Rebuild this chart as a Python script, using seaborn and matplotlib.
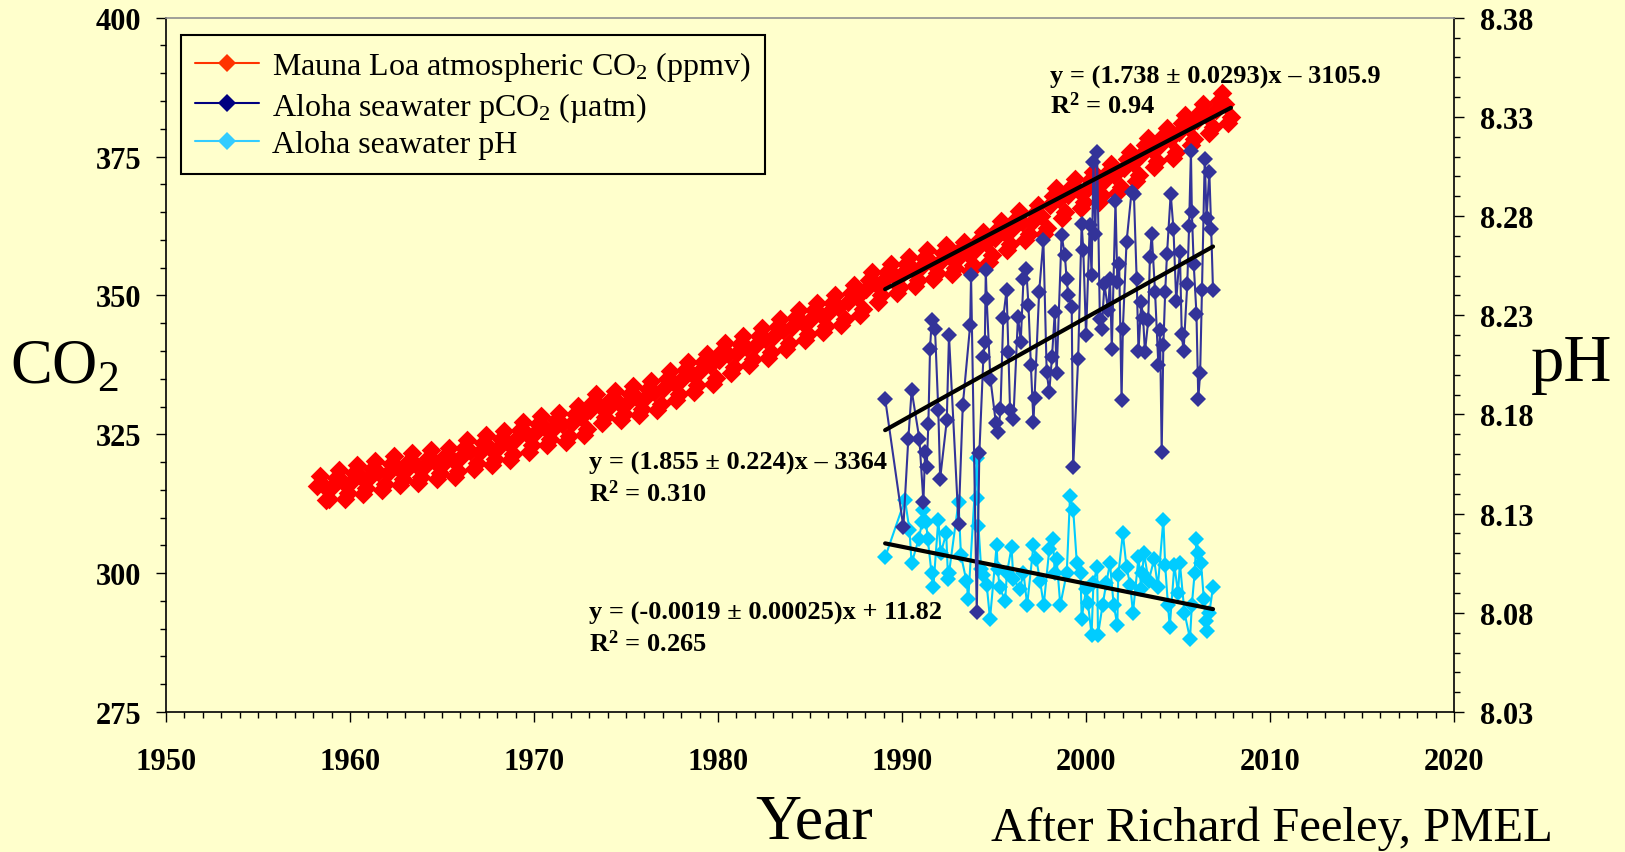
import numpy as np
import matplotlib
matplotlib.use("Agg")
import matplotlib.pyplot as plt
from matplotlib.lines import Line2D
from matplotlib.ticker import MultipleLocator, FixedLocator, FormatStrFormatter
import seaborn as sns
import pandas as pd

# Mauna Loa atmospheric CO2 (ppmv), read every two months: Jan, Mar, May, Jul, Sep, Nov
mlo_years = list(range(1958, 2008))
mlo_months = [1, 3, 5, 7, 9, 11]
mlo_co2 = [
    [np.nan, 315.7, 317.5, 315.9, 313.2, 313.3],
    [315.6, 317.2, 318.6, 316.6, 313.3, 314.4],
    [316.5, 318.1, 319.5, 317.5, 314.2, 315.3],
    [317.2, 318.8, 320.2, 318.2, 314.9, 316.0],
    [318.1, 319.7, 321.1, 319.1, 315.8, 316.9],
    [318.6, 320.2, 321.6, 319.6, 316.3, 317.4],
    [319.2, 320.8, 322.2, 320.2, 316.9, 318.0],
    [319.6, 321.2, 322.6, 320.6, 317.3, 318.4],
    [321.0, 322.6, 324.0, 322.0, 318.7, 319.8],
    [321.8, 323.4, 324.8, 322.8, 319.5, 320.6],
    [322.6, 324.2, 325.6, 323.6, 320.3, 321.4],
    [324.2, 325.8, 327.2, 325.2, 321.9, 323.0],
    [325.3, 326.9, 328.3, 326.3, 323.0, 324.1],
    [325.9, 327.5, 328.9, 326.9, 323.6, 324.7],
    [327.1, 328.7, 330.1, 328.1, 324.8, 325.9],
    [329.3, 330.9, 332.3, 330.3, 327.0, 328.1],
    [329.8, 331.4, 332.8, 330.8, 327.5, 328.6],
    [330.7, 332.3, 333.7, 331.7, 328.4, 329.5],
    [331.6, 333.2, 334.6, 332.6, 329.3, 330.4],
    [333.4, 335.0, 336.4, 334.4, 331.1, 332.2],
    [335.0, 336.6, 338.0, 336.0, 332.7, 333.8],
    [336.4, 338.0, 339.4, 337.4, 334.1, 335.2],
    [338.4, 340.0, 341.4, 339.4, 336.1, 337.2],
    [339.7, 341.3, 342.7, 340.7, 337.4, 338.5],
    [341.1, 342.7, 344.1, 342.1, 338.8, 339.9],
    [342.7, 344.3, 345.7, 343.7, 340.4, 341.5],
    [344.3, 345.9, 347.3, 345.3, 342.0, 343.1],
    [345.7, 347.3, 348.7, 346.7, 343.4, 344.5],
    [347.0, 348.6, 350.0, 348.0, 344.7, 345.8],
    [348.8, 350.4, 351.8, 349.8, 346.5, 347.6],
    [351.2, 352.8, 354.2, 352.2, 348.9, 350.0],
    [352.7, 354.3, 355.7, 353.7, 350.4, 351.5],
    [354.0, 355.6, 357.0, 355.0, 351.7, 352.8],
    [355.2, 356.8, 358.2, 356.2, 352.9, 354.0],
    [356.1, 357.7, 359.1, 357.1, 353.8, 354.9],
    [356.7, 358.3, 359.7, 357.7, 354.4, 355.5],
    [358.4, 360.0, 361.4, 359.4, 356.1, 357.2],
    [360.4, 362.0, 363.4, 361.4, 358.1, 359.2],
    [362.2, 363.8, 365.2, 363.2, 359.9, 361.0],
    [363.3, 364.9, 366.3, 364.3, 361.0, 362.1],
    [366.3, 367.9, 369.3, 367.3, 364.0, 365.1],
    [368.0, 369.6, 371.0, 369.0, 365.7, 366.8],
    [369.2, 370.8, 372.2, 370.2, 366.9, 368.0],
    [370.7, 372.3, 373.7, 371.7, 368.4, 369.5],
    [372.9, 374.5, 375.9, 373.9, 370.6, 371.7],
    [375.4, 377.0, 378.4, 376.4, 373.1, 374.2],
    [377.1, 378.7, 380.1, 378.1, 374.8, 375.9],
    [379.4, 381.0, 382.4, 380.4, 377.1, 378.2],
    [381.5, 383.1, 384.5, 382.5, 379.2, 380.3],
    [383.4, 385.0, 386.4, 384.4, 381.1, 382.2],
]

# Station ALOHA seawater pCO2 (uatm)
pco2_years = [
    1989.08, 1990.07, 1990.34, 1990.52, 1990.94, 1991.16, 1991.25, 1991.34, 1991.43, 1991.52,
    1991.61, 1991.79, 1991.97, 1992.07, 1992.43, 1992.55, 1993.07, 1993.30, 1993.70, 1993.75,
    1994.06, 1994.20, 1994.42, 1994.50, 1994.55, 1994.60, 1994.80, 1995.10, 1995.23, 1995.35,
    1995.50, 1995.68, 1995.78, 1995.87, 1996.05, 1996.30, 1996.45, 1996.60, 1996.75, 1996.87,
    1997.00, 1997.14, 1997.20, 1997.45, 1997.68, 1997.86, 1998.00, 1998.15, 1998.30, 1998.40,
    1998.67, 1998.85, 1998.94, 1999.04, 1999.22, 1999.30, 1999.57, 1999.76, 1999.85, 2000.00,
    2000.20, 2000.30, 2000.40, 2000.50, 2000.60, 2000.75, 2000.85, 2001.00, 2001.20, 2001.30,
    2001.40, 2001.60, 2001.70, 2001.80, 2001.93, 2002.00, 2002.20, 2002.47, 2002.60, 2002.75,
    2002.85, 2003.00, 2003.10, 2003.20, 2003.38, 2003.47, 2003.57, 2003.75, 2003.93, 2004.02,
    2004.11, 2004.20, 2004.30, 2004.40, 2004.60, 2004.75, 2004.90, 2005.10, 2005.20, 2005.30,
    2005.50, 2005.60, 2005.70, 2005.75, 2005.85, 2006.00, 2006.10, 2006.20, 2006.30, 2006.45,
    2006.55, 2006.70, 2006.80, 2006.90,
]
pco2_values = [
    331.4, 308.3, 324.2, 332.9, 324.2, 312.8, 321.8, 319.1, 326.9, 340.4,
    345.5, 344.0, 329.3, 317.0, 327.5, 342.8, 308.9, 330.2, 344.6, 353.6,
    293.0, 321.6, 338.9, 341.6, 354.5, 349.3, 335.0, 327.0, 325.4, 329.5,
    346.0, 351.0, 339.8, 329.3, 327.8, 346.2, 341.7, 353.0, 354.8, 348.2,
    337.5, 327.2, 331.6, 350.6, 360.0, 336.2, 332.6, 339.0, 347.0, 336.0,
    360.8, 357.2, 353.0, 350.0, 347.9, 319.1, 338.6, 362.9, 358.1, 342.8,
    362.6, 353.6, 374.0, 361.1, 375.8, 345.8, 344.0, 352.0, 347.3, 353.0,
    340.4, 367.0, 352.5, 355.6, 331.1, 344.0, 359.6, 368.6, 368.3, 353.0,
    340.0, 348.8, 346.0, 339.8, 345.5, 356.9, 361.1, 350.6, 337.4, 343.7,
    321.8, 341.0, 350.6, 357.5, 368.3, 362.0, 349.0, 357.9, 343.0, 340.0,
    352.0, 362.5, 376.0, 365.0, 355.7, 346.7, 331.4, 336.0, 351.0, 374.6,
    364.0, 372.2, 362.0, 350.9,
]

# Station ALOHA seawater pH
ph_years = [
    1989.08, 1990.16, 1990.40, 1990.52, 1990.90, 1991.10, 1991.16, 1991.30, 1991.40, 1991.60,
    1991.70, 1991.97, 1992.10, 1992.40, 1992.50, 1992.55, 1993.07, 1993.20, 1993.50, 1993.60,
    1994.06, 1994.10, 1994.15, 1994.30, 1994.40, 1994.60, 1994.78, 1995.14, 1995.20, 1995.30,
    1995.60, 1995.70, 1995.95, 1996.05, 1996.40, 1996.60, 1996.80, 1997.14, 1997.30, 1997.50,
    1997.70, 1998.00, 1998.20, 1998.30, 1998.40, 1998.60, 1998.95, 1999.13, 1999.30, 1999.50,
    1999.70, 1999.76, 2000.00, 2000.10, 2000.30, 2000.40, 2000.60, 2000.65, 2000.90, 2001.10,
    2001.30, 2001.50, 2001.70, 2001.75, 2002.00, 2002.20, 2002.40, 2002.55, 2002.85, 2003.00,
    2003.05, 2003.15, 2003.40, 2003.70, 2003.90, 2004.20, 2004.30, 2004.45, 2004.55, 2004.80,
    2005.00, 2005.10, 2005.35, 2005.65, 2005.75, 2005.90, 2006.00, 2006.10, 2006.25, 2006.40,
    2006.50, 2006.60, 2006.70, 2006.90,
]
ph_values = [
    8.108, 8.137, 8.122, 8.105, 8.117, 8.126, 8.132, 8.126, 8.117, 8.100,
    8.093, 8.127, 8.110, 8.120, 8.097, 8.100, 8.136, 8.109, 8.096, 8.087,
    8.158, 8.138, 8.124, 8.102, 8.099, 8.094, 8.077, 8.114, 8.102, 8.093,
    8.086, 8.100, 8.113, 8.097, 8.092, 8.100, 8.084, 8.114, 8.107, 8.096,
    8.084, 8.112, 8.117, 8.100, 8.107, 8.084, 8.100, 8.139, 8.132, 8.105,
    8.100, 8.077, 8.092, 8.085, 8.069, 8.095, 8.103, 8.069, 8.084, 8.095,
    8.105, 8.084, 8.074, 8.099, 8.120, 8.103, 8.094, 8.080, 8.108, 8.092,
    8.100, 8.110, 8.096, 8.107, 8.093, 8.127, 8.104, 8.084, 8.073, 8.104,
    8.090, 8.105, 8.080, 8.067, 8.084, 8.100, 8.117, 8.110, 8.105, 8.087,
    8.076, 8.071, 8.080, 8.093,
]

# right-axis tick values
ph_ticks = [8.03, 8.08, 8.13, 8.18, 8.23, 8.28, 8.33, 8.38]

# linear fits (slope, intercept) as printed /
co2_fit = (1.738, -3105.9)
pco2_fit = (1.855, -3364.0)
ph_fit = (-0.00186, 11.8147)

bg = "#FFFFCC"
red = "#FF0000"
navy = "#333399"
cyan = "#00CCFF"

sns.set_theme(style="white")
plt.rcParams["font.family"] = ["Liberation Serif", "DejaVu Serif"]
plt.rcParams["mathtext.fontset"] = "custom"
plt.rcParams["mathtext.rm"] = "Liberation Serif"
plt.rcParams["mathtext.it"] = "Liberation Serif:italic"
plt.rcParams["mathtext.bf"] = "Liberation Serif:bold"
plt.rcParams["text.color"] = "black"
plt.rcParams["xtick.color"] = "black"
plt.rcParams["ytick.color"] = "black"

# long-format table of the Mauna Loa record
rows = []
for yr, vals in zip(mlo_years, mlo_co2):
    for m, v in zip(mlo_months, vals):
        if not np.isnan(v):
            rows.append((yr + (m - 0.5) / 12.0, v))
mlo = pd.DataFrame(rows, columns=["year", "co2"])

fig = plt.figure(figsize=(16.25, 8.53), dpi=100, facecolor=bg)
ax = fig.add_axes([0.1022, 0.1641, 0.7926, 0.8140])
ax2 = ax.twinx()
ax.set_zorder(ax2.get_zorder() + 1)
ax.patch.set_visible(False)
ax2.patch.set_facecolor(bg)

# pH on the right axis (drawn behind)
sns.lineplot(x=ph_years, y=ph_values, color=cyan, marker="D", markersize=8.6,
             markeredgewidth=0, linewidth=1.5, estimator=None, sort=False, ax=ax2)
ph_x = np.array([ph_years[0], ph_years[-1]])
ax2.plot(ph_x, ph_fit[0] * ph_x + ph_fit[1], color="black", lw=3, zorder=5)

# CO2 series on the left axis
sns.scatterplot(data=mlo, x="year", y="co2", marker="D", s=100, color=red,
                linewidth=0, ax=ax, zorder=2)
sns.lineplot(x=pco2_years, y=pco2_values, color=navy, marker="D", markersize=8.6,
             markeredgewidth=0, linewidth=1.5, estimator=None, sort=False, ax=ax, zorder=3)

co2_x = np.array([pco2_years[0], mlo["year"].iloc[-1]])
ax.plot(co2_x, co2_fit[0] * co2_x + co2_fit[1], color="black", lw=3, zorder=5)
pco2_x = np.array([pco2_years[0], pco2_years[-1]])
ax.plot(pco2_x, pco2_fit[0] * pco2_x + pco2_fit[1], color="black", lw=3, zorder=5)

# axes, ticks
ax.set_xlim(1950, 2020)
ax.set_ylim(275, 400)
ax2.set_ylim(8.03, 8.38)
ax.xaxis.set_major_locator(MultipleLocator(10))
ax.xaxis.set_minor_locator(MultipleLocator(1))
ax.yaxis.set_major_locator(MultipleLocator(25))
ax.yaxis.set_minor_locator(MultipleLocator(5))
ax2.yaxis.set_major_locator(FixedLocator(ph_ticks))
ax2.yaxis.set_minor_locator(MultipleLocator(0.01))
ax2.yaxis.set_major_formatter(FormatStrFormatter("%.2f"))
ax.set_xlabel("")
ax.set_ylabel("")
ax2.set_ylabel("")

ax.tick_params(axis="x", which="both", direction="out", bottom=True, top=False,
               color="black", width=1)
ax.tick_params(axis="x", which="major", length=7, pad=18, labelsize=22)
ax.tick_params(axis="x", which="minor", length=4)
ax.tick_params(axis="y", which="both", direction="out", left=True, right=False,
               color="black", width=1)
ax.tick_params(axis="y", which="major", length=7, pad=11, labelsize=22)
ax.tick_params(axis="y", which="minor", length=4)
ax2.tick_params(axis="y", which="both", direction="out", right=True, left=False,
                color="black", width=1)
ax2.tick_params(axis="y", which="major", length=7, pad=12, labelsize=22)
ax2.tick_params(axis="y", which="minor", length=4)
for lab in ax.get_xticklabels() + ax.get_yticklabels() + ax2.get_yticklabels():
    lab.set_fontweight("bold")
    lab.set_color("black")

for name, sp in ax.spines.items():
    sp.set_visible(name in ("left", "bottom", "top"))
    sp.set_color("black")
    sp.set_linewidth(1.2)
ax.spines["top"].set_color("#909090")
for name, sp in ax2.spines.items():
    sp.set_visible(name == "right")
    sp.set_color("black")
    sp.set_linewidth(1.2)

# legend
handles = [
    Line2D([], [], color="#FF3300", marker="D", markersize=9, markeredgewidth=0, lw=1.5),
    Line2D([], [], color="#000080", marker="D", markersize=9, markeredgewidth=0, lw=1.5),
    Line2D([], [], color="#33CCFF", marker="D", markersize=9, markeredgewidth=0, lw=1.5),
]
labels = [
    "Mauna Loa atmospheric CO$_2$ (ppmv)",
    "Aloha seawater pCO$_2$ (\u00b5atm)",
    "Aloha seawater pH",
]
leg = ax.legend(handles, labels, loc="upper left", bbox_to_anchor=(0.1114, 0.958),
                bbox_transform=fig.transFigure, fontsize=23, frameon=True, fancybox=False,
                facecolor=bg, edgecolor="black", framealpha=1, borderpad=0.45,
                labelspacing=0.2, handlelength=2.0, handletextpad=0.4, borderaxespad=0)
leg.get_frame().set_linewidth(1.5)
for t in leg.get_texts():
    t.set_color("black")

# fit equations
eq_font = dict(fontsize=19, fontweight="bold", color="black", va="baseline", ha="left")
ax.text(1998.04, 388.4, "y = (1.738 \u00b1 0.0293)x \u2013 3105.9", **eq_font)
ax.text(1998.04, 382.8, "R$^{\\mathbf{2}}$ = 0.94", **eq_font)
ax.text(1973.0, 318.9, "y = (1.855 \u00b1 0.224)x \u2013 3364", **eq_font)
ax.text(1973.0, 313.0, "R$^{\\mathbf{2}}$ = 0.310", **eq_font)
ax.text(1973.0, 291.8, "y = (-0.0019 \u00b1 0.00025)x + 11.82", **eq_font)
ax.text(1973.0, 286.0, "R$^{\\mathbf{2}}$ = 0.265", **eq_font)

# big axis titles
fig.text(10 / 1625, 1 - 368 / 853, "CO$_2$", fontsize=45, va="center", ha="left",
         color="black")
fig.text(1531 / 1625, 1 - 365 / 853, "pH", fontsize=48, va="center", ha="left",
         color="black")
fig.text(814 / 1625, 1 - 839 / 853, "Year", fontsize=46, va="baseline", ha="center",
         color="black")
fig.text(991 / 1625, 1 - 841 / 853, "After Richard Feeley, PMEL", fontsize=35,
         va="baseline", ha="left", color="black")

fig.savefig("out.png", dpi=100, facecolor=bg)
